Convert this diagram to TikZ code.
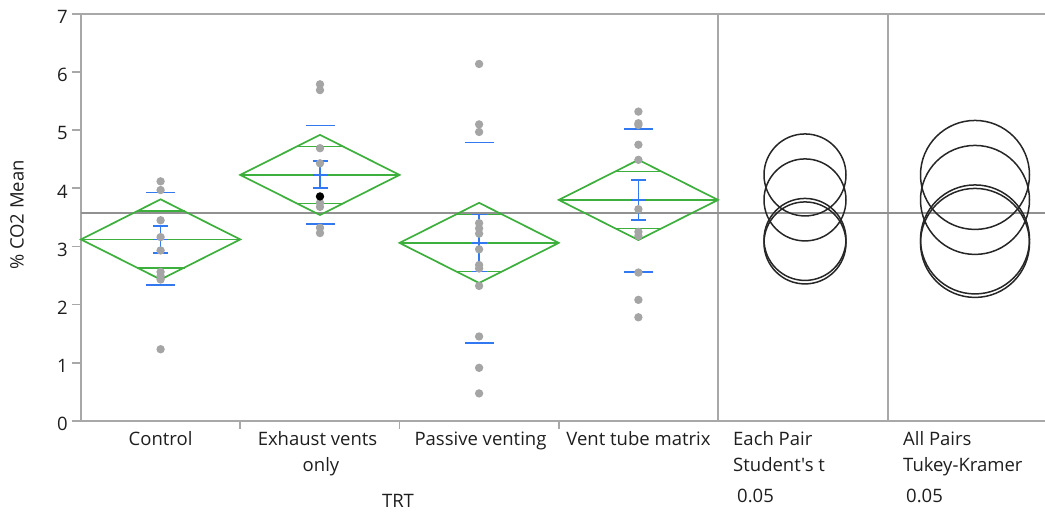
\documentclass[tikz,border=0pt]{standalone}
\usepackage{fontspec}
\setmainfont{Open Sans}[Ligatures=TeXOff]
\definecolor{axgray}{RGB}{168,168,168}
\definecolor{meangray}{RGB}{145,145,145}
\definecolor{dgreen}{RGB}{60,175,60}
\definecolor{bblue}{RGB}{50,120,240}
\definecolor{ptgray}{RGB}{165,165,165}
\definecolor{txt}{RGB}{30,30,30}
\newcommand\grpdraw[8]{%
  \draw[dia] (#1,#4) -- (#3,#4+0.69) -- (#2,#4) -- (#3,#4-0.69) -- cycle;
  \draw[dia] (#1,#4) -- (#2,#4);
  \draw[dia] (#3-24,#4+0.49) -- (#3+24,#4+0.49);
  \draw[dia] (#3-24,#4-0.49) -- (#3+24,#4-0.49);
  \draw[blu] (#3-14.5,#5) -- (#3+14.5,#5);
  \draw[blu] (#3-14.5,#6) -- (#3+14.5,#6);
  \draw[blu] (#3,#7) -- (#3,#8);
  \draw[blu] (#3-7.5,#7) -- (#3+7.5,#7);
  \draw[blu] (#3-7.5,#8) -- (#3+7.5,#8);
  \draw[blu] (#3-7.5,#4) -- (#3+7.5,#4);
}
\begin{document}
\begin{tikzpicture}[x=1pt,y=58.1pt,
  axis/.style={draw=axgray,line width=1.8pt},
  meanln/.style={draw=meangray,line width=1.8pt},
  dia/.style={draw=dgreen,line width=1.7pt,line join=miter},
  blu/.style={draw=bblue,line width=1.7pt},
  ring/.style={draw=black!85,line width=1.5pt},
  lab/.style={font=\fontsize{18.5}{22}\selectfont,text=txt,inner sep=0pt},
  tick/.style={lab,anchor=base east}]
\useasboundingbox (0,-1.5714) rectangle (1045,7.2410);
% frame
\draw[axis] (81,7) -- (1045,7);
\draw[axis] (81,0) -- (1045,0);
\draw[axis] (81,0) -- (81,7);
\draw[axis] (718,0) -- (718,7);
\draw[axis] (888,0) -- (888,7);
\foreach \v in {0,...,7} {
  \draw[axis] (72,\v) -- (81,\v);
  \node[tick] (t\v) at (68,\v-0.167) {\v};
}
\foreach \x in {240.25,399.5,558.75} \draw[axis] (\x,0) -- (\x,-0.14);
% overall mean
\draw[meanln] (81,3.575) -- (1045,3.575);
% groups
\grpdraw{81}{240.25}{160.6}{3.12}{3.93}{2.33}{3.35}{2.89}
\grpdraw{240.25}{399.5}{320}{4.23}{5.08}{3.38}{4.47}{4.00}
\grpdraw{399.5}{558.75}{479.1}{3.06}{4.79}{1.34}{3.55}{2.57}
\grpdraw{558.75}{718}{638.4}{3.80}{5.02}{2.56}{4.14}{3.45}
% points
\foreach \v in {4.12,3.97,3.45,3.16,2.93,2.56,2.49,2.43,1.23}
  \fill[ptgray] (160.6,\v) circle[radius=4.2pt];
\foreach \v in {5.79,5.69,4.69,4.43,3.75,3.68,3.32,3.23}
  \fill[ptgray] (320,\v) circle[radius=4.2pt];
\fill[black] (320,3.86) circle[radius=4.2pt];
\foreach \v in {6.14,5.10,4.97,3.40,3.31,3.22,2.95,2.68,2.62,2.32,1.45,0.91,0.47}
  \fill[ptgray] (479.1,\v) circle[radius=4.2pt];
\foreach \v in {5.32,5.12,5.09,4.75,4.49,3.64,3.25,3.18,2.55,2.08,1.78}
  \fill[ptgray] (638.4,\v) circle[radius=4.2pt];
% comparison circles
\foreach \v in {4.23,3.80,3.12,3.06} \draw[ring] (805,\v) circle[radius=41pt];
\foreach \v in {4.23,3.80,3.12,3.06} \draw[ring] (975,\v) circle[radius=54.5pt];
% labels
\node[lab,rotate=90] (ylab) at (17,3.54) {\% CO2 Mean};
\node[lab,anchor=base] (l1) at (160.6,-0.435) {Control};
\node[lab,anchor=base] (l2) at (317.5,-0.435) {Exhaust vents};
\node[lab,anchor=base] (l2b) at (321,-0.882) {only};
\node[lab,anchor=base] (l3) at (480.5,-0.435) {Passive venting};
\node[lab,anchor=base] (l4) at (638.5,-0.435) {Vent tube matrix};
\node[lab,anchor=base] (trt) at (398,-1.50) {TRT};
\node[lab,anchor=base west] (e1) at (733,-0.435) {Each Pair};
\node[lab,anchor=base west] (e2) at (733,-0.882) {Student's t};
\node[lab,anchor=base west] (e3) at (737,-1.416) {0.05};
\node[lab,anchor=base west] (a1) at (903,-0.435) {All Pairs};
\node[lab,anchor=base west] (a2) at (903,-0.882) {Tukey-Kramer};
\node[lab,anchor=base west] (a3) at (906,-1.416) {0.05};
\end{tikzpicture}
\end{document}
